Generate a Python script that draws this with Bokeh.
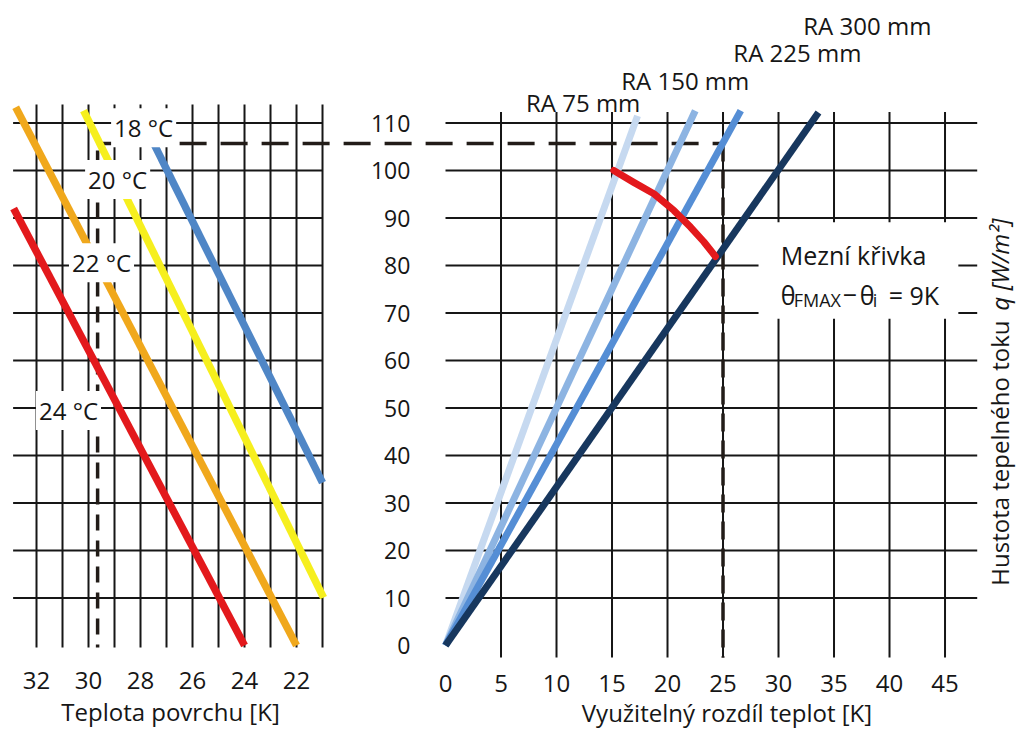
from math import pi
from bokeh.plotting import figure
from bokeh.models import Range1d, LinearAxis, FixedTicker, Label, ColumnDataSource
from bokeh.core.properties import value
from bokeh.embed import file_html
from bokeh.resources import INLINE

FONT = "Open Sans"
INK = "#161616"

# ---------------- data ----------------
# left panel: surface temperature [K] vs heat flux q
k_ticks = [32, 30, 28, 26, 24, 22]
k_grid = [32, 31, 30, 29, 28, 27, 26, 25, 24, 23, 22, 21]
q_grid = [10, 20, 30, 40, 50, 60, 70, 80, 90, 100, 110]

room_names = ["18 °C", "20 °C", "22 °C", "24 °C"]
room_colors = ["#4f86c6", "#f6ef1e", "#f0a81c", "#e3191c"]
room_k_start = [28.12, 30.19, 32.80, 32.88]
room_q_start = [112.6, 112.6, 113.3, 92.0]
room_k_end = [21.0, 20.96, 22.0, 24.0]
room_q_end = [34.3, 10.1, 0.0, 0.0]
room_label_k = [27.88, 28.88, 29.50, 30.77]
room_label_q = [109.0, 98.1, 80.6, 49.5]

# right panel: usable temperature difference [K] vs heat flux q
x_ticks = [0, 5, 10, 15, 20, 25, 30, 35, 40, 45]
x_grid = [5, 10, 15, 20, 25, 30, 35, 40, 45]
y_ticks = [0, 10, 20, 30, 40, 50, 60, 70, 80, 90, 100, 110]

ra_names = ["RA 75 mm", "RA 150 mm", "RA 225 mm", "RA 300 mm"]
ra_colors = ["#c6d9f0", "#8db4e2", "#558ed5", "#17375e"]
ra_dt_top = [17.3, 22.5, 26.6, 33.6]
ra_q_top = [111.5, 112.6, 112.6, 112.2]
ra_label_dt = [12.4, 21.6, 31.7, 38.0]
ra_label_q = [114.3, 118.9, 124.8, 130.5]

limit_dt = [15.16, 16.96, 18.77, 20.57, 22.07, 23.27, 24.32]
limit_q = [100.0, 97.5, 95.1, 91.6, 88.1, 85.0, 81.9]

design_q = 105.7
design_k = 29.65
design_dt = 25

# ---------------- figure ----------------
X_RANGE = (-40.09, 51.53)
K_RANGE = (33.385, -5.73)
Y_RANGE = (-17.47, 135.79)


def k_to_x(k):
    f = (k - K_RANGE[0]) / (K_RANGE[1] - K_RANGE[0])
    return X_RANGE[0] + f * (X_RANGE[1] - X_RANGE[0])


p = figure(width=1017, height=728, x_range=Range1d(*X_RANGE), y_range=Range1d(*Y_RANGE),
           x_axis_type=None, y_axis_type=None, output_backend="svg",
           toolbar_location=None, min_border=0, outline_line_color=None)
p.extra_x_ranges = {"K": Range1d(*K_RANGE)}

# grids (left panel)
p.segment(x0=k_grid, x1=k_grid, y0=[-0.4] * len(k_grid), y1=[113.9] * len(k_grid),
          x_range_name="K", line_color=INK, line_width=2)
p.segment(x0=[32.9] * len(q_grid), x1=[21.0] * len(q_grid), y0=q_grid, y1=q_grid,
          x_range_name="K", line_color=INK, line_width=2)
# grids (right panel)
p.segment(x0=x_grid, x1=x_grid, y0=[-2.5] * len(x_grid), y1=[112.3] * len(x_grid),
          line_color=INK, line_width=2)
p.segment(x0=[0] * len(q_grid), x1=[47.9] * len(q_grid), y0=q_grid, y1=q_grid,
          line_color=INK, line_width=2)

# white box behind limit-curve note
p.quad(left=[28.2], right=[46.2], bottom=[68.8], top=[89.1], fill_color="white", line_color=None)

# dashed design lines
DASH = "#221c18"
p.segment(x0=[k_to_x(design_k)], x1=[design_dt], y0=[design_q], y1=[design_q],
          line_color=DASH, line_width=3.5, line_dash="27 14")
p.segment(x0=[design_dt], x1=[design_dt], y0=[design_q], y1=[-2.5],
          line_color=DASH, line_width=3.5, line_dash="18 9")
p.segment(x0=[design_k], x1=[design_k], y0=[design_q - 1.5], y1=[-0.4], x_range_name="K",
          line_color=DASH, line_width=3.5, line_dash="16 10")

# room temperature lines
room_src = ColumnDataSource(dict(k0=room_k_start, q0=room_q_start, k1=room_k_end,
                                 q1=room_q_end, color=room_colors))
p.segment(x0="k0", y0="q0", x1="k1", y1="q1", color="color", line_width=7.5,
          x_range_name="K", source=room_src)

# RA lines
ra_src = ColumnDataSource(dict(x0=[0] * 4, y0=[0] * 4, x1=ra_dt_top, y1=ra_q_top, color=ra_colors))
p.segment(x0="x0", y0="y0", x1="x1", y1="y1", color="color", line_width=7, source=ra_src)

# limit curve
p.line(limit_dt, limit_q, line_color="#e3191c", line_width=7, line_cap="round", line_join="round")

# room labels with white boxes
for name, k, q in zip(room_names, room_label_k, room_label_q):
    p.add_layout(Label(x=k, y=q, x_range_name="K", text=name, text_font=FONT,
                       text_font_size="24px", text_color=INK, text_align="center",
                       text_baseline="middle", background_fill_color="white", padding=3))

# RA labels
p.text(x=ra_label_dt, y=ra_label_q, text=ra_names, text_font=value(FONT),
       text_font_size="24px", text_color=INK, text_align="center", text_baseline="middle")

# limit curve note
p.text(x=[30.2], y=[82.3], text=["Mezní křivka"], text_font=value(FONT),
       text_font_size="25px", text_color=INK, text_align="left", text_baseline="middle")
note_src = ColumnDataSource(dict(
    x=[30.2] * 6, y=[73.7] * 6,
    text=["θ", "FMAX", "−", "θ", "i", "= 9K"],
    size=["25px", "18px", "25px", "25px", "18px", "25px"],
    dx=[0, 13, 62, 79, 92, 108],
    dy=[0, 5, 0, 0, 5, 0],
))
p.text(x="x", y="y", text="text", text_font_size="size", x_offset="dx", y_offset="dy",
       text_font=value(FONT), text_color=INK, text_align="left", text_baseline="middle",
       source=note_src)

# right-side axis title (rotated)
p.text(x=[49.9], y=[12.6], text=["Hustota tepelného toku"], angle=pi / 2,
       text_font=value(FONT), text_font_size="24px", text_color=INK,
       text_align="left", text_baseline="middle")
p.text(x=[49.9], y=[70.5], text=["q [W/m²]"], angle=pi / 2,
       text_font=value(FONT), text_font_size="24px", text_font_style="italic",
       text_color=INK, text_align="left", text_baseline="middle")


def style_axis(ax):
    ax.axis_line_color = None
    ax.major_tick_line_color = None
    ax.minor_tick_line_color = None
    ax.major_tick_out = 0
    ax.major_tick_in = 0
    ax.major_label_text_font = FONT
    ax.major_label_text_font_size = "24px"
    ax.major_label_text_color = INK
    ax.axis_label_text_font = FONT
    ax.axis_label_text_font_size = "24px"
    ax.axis_label_text_font_style = "normal"
    ax.axis_label_text_color = INK


ax_r = LinearAxis(ticker=FixedTicker(ticks=x_ticks), fixed_location=-4.2, bounds=(0, 50.7),
                  axis_label="Využitelný rozdíl teplot [K]")
style_axis(ax_r)
ax_r.major_label_standoff = 10
ax_r.axis_label_standoff = 0
p.add_layout(ax_r, "below")

ax_l = LinearAxis(x_range_name="K", ticker=FixedTicker(ticks=k_ticks), fixed_location=-4.2,
                  bounds=(20.9, 32.8), axis_label="Teplota povrchu [K]")
style_axis(ax_l)
ax_l.major_label_standoff = 7
ax_l.axis_label_standoff = 2
p.add_layout(ax_l, "below")

ay = LinearAxis(ticker=FixedTicker(ticks=y_ticks), fixed_location=-2.8)
style_axis(ay)
ay.major_label_text_font_size = "23px"
ay.major_label_standoff = 4
p.add_layout(ay, "left")

open("out.html", "w").write(file_html(p, INLINE))
